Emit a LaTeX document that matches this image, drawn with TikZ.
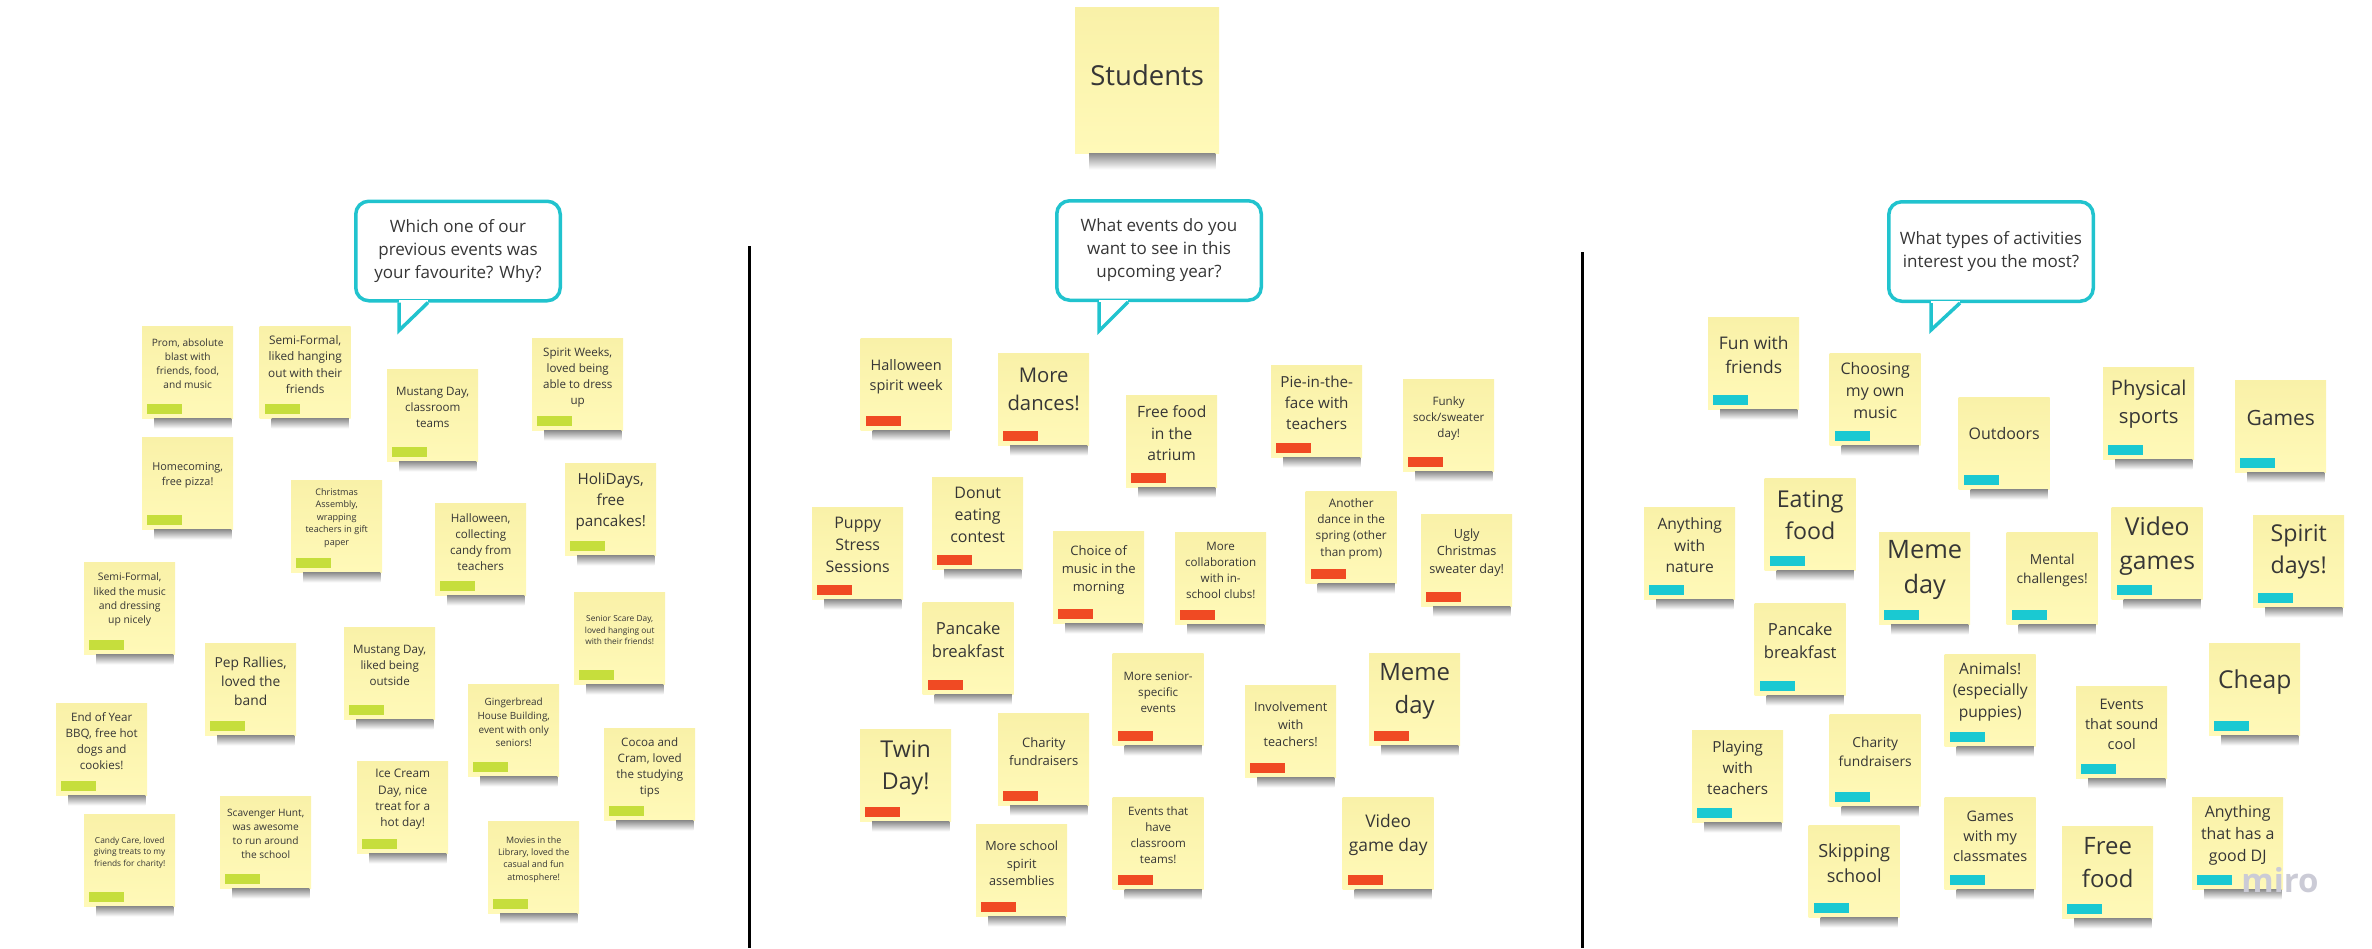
\documentclass[tikz,border=0pt]{standalone}
\usepackage{fontspec}
\setmainfont{Open Sans}
\usetikzlibrary{calc,positioning}

\definecolor{notebody}{HTML}{FFF9B8}
\definecolor{notetop}{HTML}{F9F1A8}
\definecolor{barlime}{HTML}{C6DE3C}
\definecolor{barred}{HTML}{F04A23}
\definecolor{barcyan}{HTML}{1AC9D2}
\definecolor{bubblecyan}{HTML}{21C3CE}
\definecolor{inkgray}{HTML}{363636}
\definecolor{markgray}{HTML}{CBCBD6}

% column, name, x, y, text y, line spacing, text
\newcommand{\sticky}[7]{%
    \pgfmathsetmacro\stickyfs{#6/1.38}%
    \node[#1note] (#2) at (#3,#4) {};
    \shade[shadowstrip] ([xshift=12pt]#2.south west) rectangle ([shift={(-2pt,-10pt)}]#2.south east);
    \path (#2.north) ++(0,#5-#4) node[notetext, font={\fontsize{\stickyfs}{#6}\selectfont}] (#2t) {#7};
}

\begin{document}
\begin{tikzpicture}[x=1pt, y=-1pt,
    note/.style={anchor=north west, minimum width=91, minimum height=92, inner sep=0pt,
        top color=notetop, bottom color=notebody},
    favnote/.style={note, path picture={\fill[barlime] ([shift={(5pt,4.5pt)}]path picture bounding box.south west) rectangle ++(35,-9.5);}},
    seenote/.style={note, path picture={\fill[barred] ([shift={(5pt,4.5pt)}]path picture bounding box.south west) rectangle ++(35,-9.5);}},
    actnote/.style={note, path picture={\fill[barcyan] ([shift={(5pt,4.5pt)}]path picture bounding box.south west) rectangle ++(35,-9.5);}},
    shadowstrip/.style={top color=black!45, bottom color=white},
    notetext/.style={align=center, inner sep=0pt, text=inkgray},
    bubble/.style={draw=bubblecyan, line width=3.5pt, rounded corners=13pt, fill=white,
        minimum width=204.5, minimum height=99.5, align=center, inner sep=0pt, text=inkgray,
        font=\fontsize{17}{23}\selectfont},
    tail/.style={draw=bubblecyan, line width=3.5pt, line join=miter, line cap=square},
    divider/.style={line width=3pt, black}]

    \useasboundingbox (0,0) rectangle (2372,948);

    % title
    \node[note, minimum width=144, minimum height=146] (students) at (1075,7) {};
    \shade[shadowstrip] ([xshift=14pt]students.south west) rectangle ([shift={(-4pt,-16pt)}]students.south east);
    \path (students.north) ++(0,68) node[notetext, font=\fontsize{27.5}{30}\selectfont] (studentst) {Students};

    % column dividers
    \draw[divider] (749,246) -- (749,948);
    \draw[divider] (1582,252) -- (1582,948);

    % questions
    \node[bubble] (askfav) at (458,251) {Which one of our\\previous events was\\your favourite? Why?};
    \node[bubble] (asksee) at (1159,250.5) {What events do you\\want to see in this\\upcoming year?};
    \node[bubble] (askact) at (1991,251.5) {What types of activities\\interest you the most?};

    \coordinate (askfavL) at ($(askfav.south west)+(45,0)$);
    \coordinate (askfavR) at ($(askfav.south west)+(74,0)$);
    \coordinate (askfavT) at ($(askfav.south west)+(45,28)$);
    \coordinate (askseeL) at ($(asksee.south west)+(44,0)$);
    \coordinate (askseeR) at ($(asksee.south west)+(73,0)$);
    \coordinate (askseeT) at ($(asksee.south west)+(44,29)$);
    \coordinate (askactL) at ($(askact.south west)+(44,0)$);
    \coordinate (askactR) at ($(askact.south west)+(73,0)$);
    \coordinate (askactT) at ($(askact.south west)+(44,27)$);

    \foreach \q in {askfav,asksee,askact}{
        \fill[white] ([yshift=2.2pt]\q L) rectangle ([yshift=-2.2pt]\q R);
        \draw[tail] (\q L) -- (\q T) -- (\q R);
    }

    % left column: favourite events
    \sticky{fav}{prom}{142}{326}{364}{14}{Prom, absolute\\blast with\\friends, food,\\and music}
    \sticky{fav}{semihang}{259.5}{326}{364.5}{16.3}{Semi-Formal,\\liked hanging\\out with their\\friends}
    \sticky{fav}{mustangteams}{387}{369}{407}{16}{Mustang Day,\\classroom\\teams}
    \sticky{fav}{spiritweeks}{532}{338}{377}{16}{Spirit Weeks,\\loved being\\able to dress\\up}
    \sticky{fav}{homecoming}{142}{437}{475.5}{15}{Homecoming,\\free pizza!}
    \sticky{fav}{xmasassembly}{291}{480}{518}{12.5}{Christmas\\Assembly,\\wrapping\\teachers in gift\\paper}
    \sticky{fav}{halloweencandy}{435}{503}{542}{16}{Halloween,\\collecting\\candy from\\teachers}
    \sticky{fav}{holidays}{565}{463}{502}{21}{HoliDays,\\free\\pancakes!}
    \sticky{fav}{semimusic}{84}{562}{599.5}{14.3}{Semi-Formal,\\liked the music\\and dressing\\up nicely}
    \sticky{fav}{seniorscare}{574}{592}{630}{11.5}{Senior Scare Day,\\loved hanging out\\with their friends!}
    \sticky{fav}{peprallies}{205}{643}{681}{19}{Pep Rallies,\\loved the\\band}
    \sticky{fav}{mustangout}{344}{627}{665}{16}{Mustang Day,\\liked being\\outside}
    \sticky{fav}{gingerbread}{468}{684}{722.5}{13.7}{Gingerbread\\House Building,\\event with only\\seniors!}
    \sticky{fav}{bbq}{56}{703}{741}{16}{End of Year\\BBQ, free hot\\dogs and\\cookies!}
    \sticky{fav}{cocoa}{604}{728}{767}{16}{Cocoa and\\Cram, loved\\the studying\\tips}
    \sticky{fav}{icecream}{357}{761}{799.5}{16.3}{Ice Cream\\Day, nice\\treat for a\\hot day!}
    \sticky{fav}{candycare}{84}{814}{852.5}{11.5}{Candy Care, loved\\giving treats to my\\friends for charity!}
    \sticky{fav}{scavenger}{220}{796}{834}{14}{Scavenger Hunt,\\was awesome\\to run around\\the school}
    \sticky{fav}{movies}{488}{821}{859.5}{12.3}{Movies in the\\Library, loved the\\casual and fun\\atmosphere!}

    % middle column: wished events
    \sticky{see}{spiritweek}{860.5}{338}{377}{20}{Halloween\\spirit week}
    \sticky{see}{dances}{998}{353}{389}{28}{More\\dances!}
    \sticky{see}{atrium}{1126}{395}{433.5}{21.5}{Free food\\in the\\atrium}
    \sticky{see}{pie}{1271}{365}{403}{21}{Pie-in-the-\\face with\\teachers}
    \sticky{see}{funky}{1403}{379}{418}{16}{Funky\\sock/sweater\\day!}
    \sticky{see}{puppy}{812}{507}{545}{22}{Puppy\\Stress\\Sessions}
    \sticky{see}{donut}{932}{477}{515}{22}{Donut\\eating\\contest}
    \sticky{see}{choice}{1053}{531}{570}{18}{Choice of\\music in the\\morning}
    \sticky{see}{clubs}{1175}{532}{570}{16}{More\\collaboration\\with in-\\school clubs!}
    \sticky{see}{spring}{1305.5}{491}{528.5}{16.3}{Another\\dance in the\\spring (other\\than prom)}
    \sticky{see}{ugly}{1421}{514}{552.5}{17.5}{Ugly\\Christmas\\sweater day!}
    \sticky{see}{pancakesee}{922.5}{602}{639.5}{23}{Pancake\\breakfast}
    \sticky{see}{senior}{1112.5}{653}{692}{16}{More senior-\\specific\\events}
    \sticky{see}{involve}{1245}{685}{724.5}{17.5}{Involvement\\with\\teachers!}
    \sticky{see}{memesee}{1369}{653}{691.5}{33}{Meme\\day}
    \sticky{see}{twin}{860}{729}{768}{32}{Twin\\Day!}
    \sticky{see}{charitysee}{998}{713}{752}{18}{Charity\\fundraisers}
    \sticky{see}{assemblies}{976}{824}{863.5}{17.5}{More school\\spirit\\assemblies}
    \sticky{see}{classteams}{1112.5}{797}{835}{16}{Events that\\have\\classroom\\teams!}
    \sticky{see}{videoday}{1342.5}{797}{835}{24}{Video\\game day}

    % right column: activities
    \sticky{act}{fun}{1708}{317}{355}{24}{Fun with\\friends}
    \sticky{act}{ownmusic}{1829.5}{353}{391}{22}{Choosing\\my own\\music}
    \sticky{act}{outdoors}{1958.5}{397}{434}{22}{Outdoors}
    \sticky{act}{sports}{2103}{367}{404}{28}{Physical\\sports}
    \sticky{act}{games}{2235}{380}{418}{29}{Games}
    \sticky{act}{nature}{1644}{507}{545.5}{21.5}{Anything\\with\\nature}
    \sticky{act}{eating}{1764.5}{478}{515}{32}{Eating\\food}
    \sticky{act}{memeact}{1879}{532}{569.5}{35}{Meme\\day}
    \sticky{act}{mental}{2006.5}{532}{570.5}{19}{Mental\\challenges!}
    \sticky{act}{videogames}{2111.5}{507}{546}{34}{Video\\games}
    \sticky{act}{spiritdays}{2253}{515}{552}{32}{Spirit\\days!}
    \sticky{act}{pancakeact}{1754.5}{603}{640.5}{23}{Pancake\\breakfast}
    \sticky{act}{animals}{1944.5}{654}{691.5}{21.5}{Animals!\\(especially\\puppies)}
    \sticky{act}{soundcool}{2076}{686}{724}{20}{Events\\that sound\\cool}
    \sticky{act}{cheap}{2209}{643}{682}{34}{Cheap}
    \sticky{act}{playing}{1692}{730}{768}{21}{Playing\\with\\teachers}
    \sticky{act}{charityact}{1829.5}{714}{751.5}{19}{Charity\\fundraisers}
    \sticky{act}{skipping}{1808.5}{825}{863.5}{25}{Skipping\\school}
    \sticky{act}{classmates}{1944.5}{797}{836}{20}{Games\\with my\\classmates}
    \sticky{act}{freefood}{2062}{826}{862.5}{33}{Free\\food}
    \sticky{act}{dj}{2192}{797}{835}{22}{Anything\\that has a\\good DJ}

    \node[font={\bfseries\fontsize{33}{33}\selectfont}, text=markgray, inner sep=0pt] (miromark) at (2280,880) {miro};

\end{tikzpicture}
\end{document}
